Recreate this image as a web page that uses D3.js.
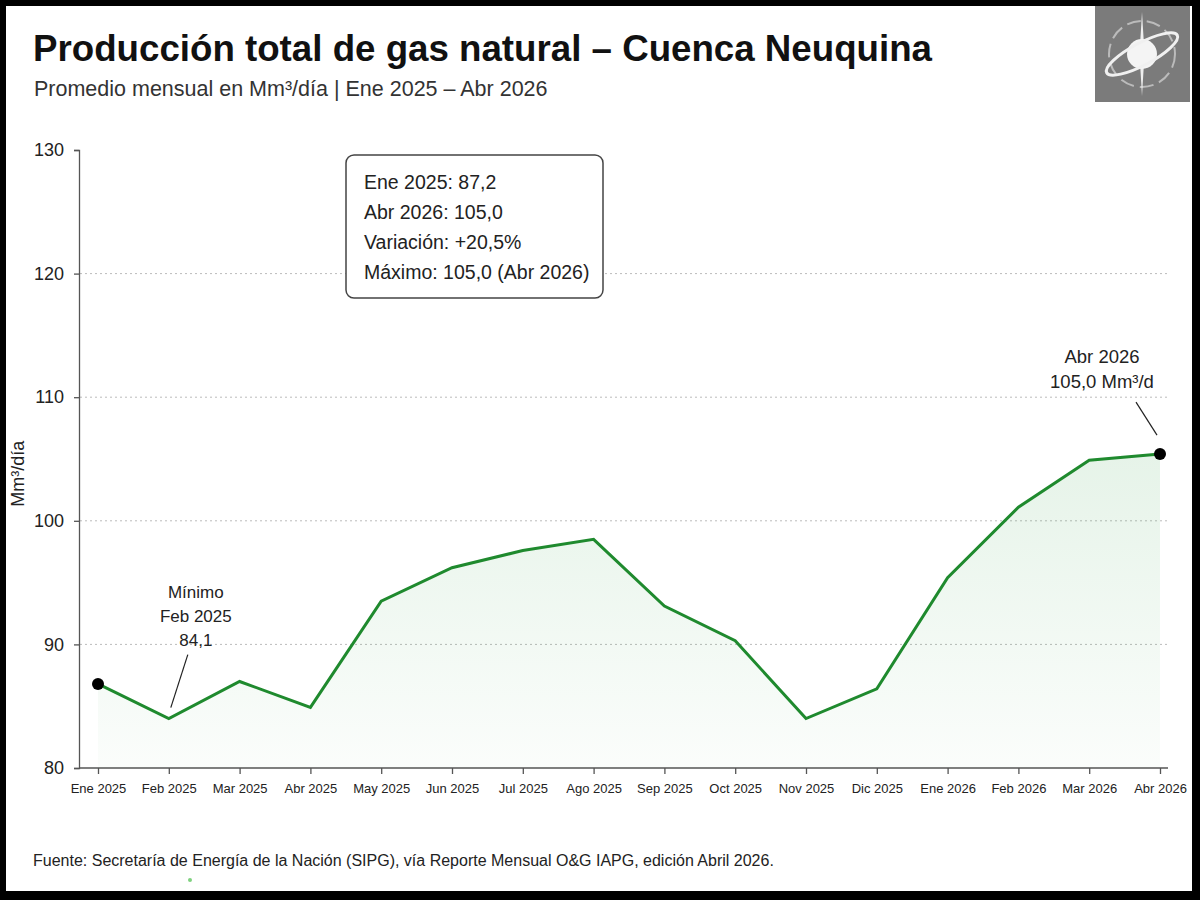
<!DOCTYPE html>
<html lang="es">
<head>
  <meta charset="UTF-8">
  <title>Producción total de gas natural – Cuenca Neuquina</title>
  <style>
    body { margin: 0; background: #000; }
    svg { display: block; }
    text { font-family: "Liberation Sans", Arial, sans-serif; fill: #222; }
  </style>
  <script src="https://d3js.org/d3.v7.min.js"></script>
</head>
<body>
  <div id="chart"></div>
  <script>
    // Datos
    const months = ["Ene 2025", "Feb 2025", "Mar 2025", "Abr 2025", "May 2025", "Jun 2025",
      "Jul 2025", "Ago 2025", "Sep 2025", "Oct 2025", "Nov 2025", "Dic 2025",
      "Ene 2026", "Feb 2026", "Mar 2026", "Abr 2026"];
    const values = [86.8, 84.0, 87.0, 84.9, 93.5, 96.2, 97.6, 98.5, 93.1, 90.3, 84.0, 86.4,
      95.4, 101.1, 104.9, 105.4];
    const yTicks = [80, 90, 100, 110, 120, 130];
    const gridTicks = [90, 100, 110, 120];
    const summary = ["Ene 2025: 87,2", "Abr 2026: 105,0", "Variación: +20,5%", "Máximo: 105,0 (Abr 2026)"];

    const data = months.map((m, i) => ({ month: m, value: values[i] }));

    const W = 1200, H = 900;
    const svg = d3.select("#chart").append("svg")
      .attr("width", W).attr("height", H);

    // marco
    svg.append("rect").attr("width", W).attr("height", H).attr("fill", "#000");
    svg.append("rect").attr("x", 6).attr("y", 6).attr("width", 1186).attr("height", 885).attr("fill", "#fff");

    const x = d3.scalePoint().domain(months).range([98, 1160]);
    const y = d3.scaleLinear().domain([80, 130]).range([768, 150]);

    // degradado del área
    const defs = svg.append("defs");
    const grad = defs.append("linearGradient").attr("id", "fillGrad")
      .attr("x1", 0).attr("y1", 0).attr("x2", 0).attr("y2", 1);
    grad.append("stop").attr("offset", "0%").attr("stop-color", "#2e9e44").attr("stop-opacity", 0.12);
    grad.append("stop").attr("offset", "100%").attr("stop-color", "#2e9e44").attr("stop-opacity", 0.02);

    // grilla
    svg.append("g").selectAll("line").data(gridTicks).join("line")
      .attr("x1", 80).attr("x2", 1168)
      .attr("y1", d => y(d)).attr("y2", d => y(d))
      .attr("stroke", "#bbb").attr("stroke-width", 1).attr("stroke-dasharray", "2,3");

    // área
    svg.append("path").datum(data)
      .attr("fill", "url(#fillGrad)")
      .attr("d", d3.area().x(d => x(d.month)).y0(y(80)).y1(d => y(d.value)));

    // línea
    svg.append("path").datum(data)
      .attr("fill", "none").attr("stroke", "#1f8a2e").attr("stroke-width", 3)
      .attr("stroke-linejoin", "miter")
      .attr("d", d3.line().x(d => x(d.month)).y(d => y(d.value)));

    // puntos extremos
    svg.append("g").selectAll("circle").data([data[0], data[data.length - 1]]).join("circle")
      .attr("cx", d => x(d.month)).attr("cy", d => y(d.value)).attr("r", 6).attr("fill", "#000");

    // eje Y
    const yAxis = svg.append("g").attr("transform", "translate(79,0)")
      .call(d3.axisLeft(y).tickValues(yTicks).tickSize(5).tickPadding(10));
    yAxis.selectAll("text").style("font-size", "18px").style("fill", "#222");
    yAxis.selectAll("line, path").attr("stroke", "#555").attr("stroke-width", 1.3);

    // eje X
    const xAxis = svg.append("g").attr("transform", `translate(0,${y(80)})`)
      .call(d3.axisBottom(x).tickSize(6).tickSizeOuter(0).tickPadding(10));
    xAxis.select(".domain").remove();
    xAxis.append("line").attr("x1", 79).attr("x2", 1168).attr("stroke", "#555").attr("stroke-width", 1.3);
    xAxis.selectAll("text").style("font-size", "13px").style("fill", "#222");
    xAxis.selectAll(".tick line").attr("stroke", "#555").attr("stroke-width", 1.3);

    // título eje Y
    svg.append("text").attr("transform", `translate(24,${y(103.8)}) rotate(-90)`)
      .attr("text-anchor", "middle").style("font-size", "18px").text("Mm³/día");

    // títulos
    svg.append("text").attr("x", 33).attr("y", 61)
      .style("font-weight", "bold").style("font-size", "36.7px").style("fill", "#111")
      .text("Producción total de gas natural – Cuenca Neuquina");
    svg.append("text").attr("x", 34).attr("y", 96)
      .style("font-size", "21.5px").style("fill", "#333")
      .text("Promedio mensual en Mm³/día | Ene 2025 – Abr 2026");

    // recuadro resumen
    svg.append("rect").attr("x", 346).attr("y", 155).attr("width", 257).attr("height", 143)
      .attr("rx", 8).attr("fill", "#fff").attr("stroke", "#444").attr("stroke-width", 1.5);
    svg.append("g").selectAll("text").data(summary).join("text")
      .attr("x", 364).attr("y", (d, i) => 189 + i * 30)
      .style("font-size", "19.5px").text(d => d);

    // anotación mínimo
    const iMin = 1;
    svg.append("line")
      .attr("x1", x(months[iMin]) + 19).attr("y1", y(values[iMin]) - 64)
      .attr("x2", x(months[iMin]) + 2).attr("y2", y(values[iMin]) - 11)
      .attr("stroke", "#222").attr("stroke-width", 1.2);
    svg.append("g").selectAll("text").data(["Mínimo", "Feb 2025", "84,1"]).join("text")
      .attr("x", x(months[iMin]) + 27).attr("y", (d, i) => y(values[iMin]) - 121 + i * 24)
      .attr("text-anchor", "middle").style("font-size", "17px").text(d => d);

    // anotación final
    const iLast = months.length - 1;
    svg.append("line")
      .attr("x1", x(months[iLast]) - 24).attr("y1", y(values[iLast]) - 52)
      .attr("x2", x(months[iLast]) - 3).attr("y2", y(values[iLast]) - 19)
      .attr("stroke", "#222").attr("stroke-width", 1.2);
    svg.append("g").selectAll("text").data(["Abr 2026", "105,0 Mm³/d"]).join("text")
      .attr("x", x(months[iLast]) - 58).attr("y", (d, i) => y(values[iLast]) - 91 + i * 25)
      .attr("text-anchor", "middle").style("font-size", "18.5px").text(d => d);

    // fuente
    svg.append("text").attr("x", 33).attr("y", 866)
      .style("font-size", "16px").style("fill", "#222")
      .text("Fuente: Secretaría de Energía de la Nación (SIPG), vía Reporte Mensual O&G IAPG, edición Abril 2026.");
    svg.append("circle").attr("cx", 190).attr("cy", 880).attr("r", 2).attr("fill", "#7fd17f");

    // logo
    const logo = svg.append("g").attr("transform", "translate(1142,54)");
    logo.append("rect").attr("x", -47).attr("y", -48).attr("width", 95).attr("height", 96).attr("fill", "#7b7b7b");
    logo.append("circle").attr("r", 33).attr("fill", "none").attr("stroke", "#bbb")
      .attr("stroke-width", 2).attr("stroke-dasharray", "14,6");
    logo.append("path").attr("d", "M0,-42 L2.5,0 L0,42 L-2.5,0 Z").attr("fill", "#eee");
    logo.append("circle").attr("r", 15).attr("fill", "#f4f4f4");
    logo.append("ellipse").attr("rx", 40).attr("ry", 11).attr("transform", "rotate(-28)")
      .attr("fill", "none").attr("stroke", "#f0f0f0").attr("stroke-width", 3);
  </script>
</body>
</html>
